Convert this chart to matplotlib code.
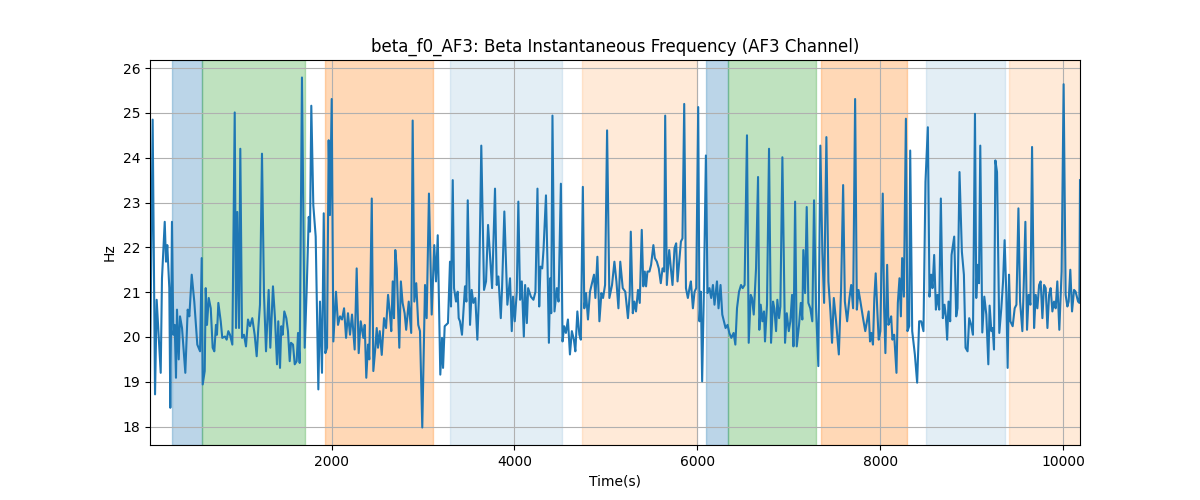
import matplotlib
matplotlib.use('Agg')
import matplotlib.pyplot as plt

# time (s) and beta instantaneous frequency (Hz)
time = [16, 45, 71, 89, 133, 147, 177, 191, 205, 227, 238, 256, 271, 286, 300, 311, 330, 344, 366, 402,
        428, 446, 472, 500, 533, 563, 581, 592, 614, 625, 639, 658, 680, 701, 719, 737, 748, 763, 789, 806,
        836, 854, 872, 890, 916, 942, 956, 970, 989, 1003, 1022, 1043, 1065, 1087, 1109, 1134, 1160, 1182, 1200, 1218,
        1240, 1262, 1284, 1313, 1331, 1360, 1382, 1404, 1418, 1437, 1451, 1466, 1484, 1506, 1524, 1543, 1557, 1579, 1598, 1619,
        1634, 1652, 1677, 1707, 1729, 1751, 1765, 1779, 1801, 1827, 1856, 1874, 1896, 1915, 1932, 1951, 1969, 1983, 2002, 2020,
        2049, 2071, 2093, 2115, 2137, 2159, 2180, 2202, 2224, 2253, 2275, 2297, 2319, 2348, 2363, 2380, 2399, 2413, 2440, 2457,
        2479, 2494, 2508, 2527, 2549, 2574, 2596, 2618, 2639, 2653, 2669, 2683, 2697, 2713, 2741, 2758, 2777, 2799, 2816, 2844,
        2871, 2887, 2905, 2926, 2948, 2967, 2992, 3022, 3040, 3065, 3095, 3123, 3142, 3161, 3189, 3208, 3219, 3237, 3273, 3295,
        3306, 3325, 3339, 3361, 3379, 3390, 3404, 3426, 3459, 3474, 3489, 3514, 3532, 3550, 3572, 3594, 3612, 3637, 3667, 3689,
        3711, 3755, 3787, 3806, 3824, 3850, 3864, 3889, 3922, 3951, 3970, 3984, 4003, 4025, 4042, 4061, 4080, 4102, 4116, 4135,
        4149, 4179, 4207, 4229, 4251, 4270, 4284, 4303, 4317, 4344, 4361, 4376, 4390, 4401, 4415, 4437, 4463, 4481, 4507, 4525,
        4543, 4562, 4584, 4606, 4627, 4649, 4665, 4687, 4709, 4725, 4747, 4763, 4782, 4803, 4825, 4847, 4869, 4884, 4906, 4928,
        4950, 4968, 4990, 5012, 5037, 5066, 5092, 5114, 5136, 5156, 5183, 5211, 5240, 5259, 5271, 5293, 5310, 5328, 5350, 5369,
        5391, 5408, 5424, 5438, 5453, 5475, 5493, 5518, 5534, 5556, 5577, 5599, 5618, 5636, 5647, 5665, 5691, 5709, 5727, 5749,
        5767, 5782, 5803, 5819, 5836, 5855, 5874, 5895, 5913, 5928, 5950, 5968, 5986, 6008, 6022, 6037, 6051, 6070, 6092, 6110,
        6131, 6150, 6169, 6186, 6213, 6230, 6252, 6271, 6289, 6307, 6329, 6348, 6370, 6395, 6414, 6432, 6454, 6476, 6494, 6515,
        6541, 6560, 6582, 6596, 6615, 6640, 6662, 6676, 6691, 6709, 6727, 6738, 6760, 6782, 6804, 6826, 6840, 6859, 6873, 6892,
        6906, 6928, 6957, 6976, 6998, 7015, 7034, 7049, 7067, 7085, 7110, 7129, 7146, 7157, 7176, 7194, 7212, 7233, 7255, 7274,
        7296, 7321, 7343, 7365, 7384, 7409, 7431, 7453, 7471, 7490, 7515, 7545, 7570, 7592, 7611, 7636, 7661, 7680, 7701, 7723,
        7742, 7760, 7781, 7812, 7834, 7852, 7871, 7886, 7900, 7918, 7933, 7948, 7966, 7981, 7999, 8025, 8040, 8054, 8073, 8087,
        8102, 8117, 8131, 8150, 8175, 8190, 8208, 8223, 8237, 8256, 8278, 8295, 8314, 8325, 8347, 8376, 8401, 8423, 8445, 8470,
        8492, 8518, 8536, 8554, 8569, 8587, 8606, 8623, 8642, 8660, 8682, 8700, 8715, 8729, 8744, 8762, 8777, 8806, 8828, 8842,
        8864, 8890, 8912, 8930, 8952, 8970, 8992, 9011, 9033, 9047, 9061, 9077, 9091, 9113, 9135, 9157, 9179, 9193, 9212, 9226,
        9241, 9256, 9274, 9299, 9321, 9340, 9357, 9376, 9390, 9405, 9420, 9445, 9467, 9486, 9508, 9526, 9551, 9566, 9584, 9602,
        9620, 9639, 9657, 9679, 9697, 9715, 9734, 9751, 9770, 9788, 9806, 9825, 9843, 9860, 9879, 9897, 9915, 9933, 9955, 9980,
        10002, 10024, 10043, 10057, 10075, 10094, 10116, 10133, 10160, 10174, 10181]

hz = [19.09, 24.85, 18.72, 20.83, 19.2, 21.31, 22.57, 21.68, 22.05, 21.09, 18.42, 22.57, 20.05, 20.27, 19.09, 20.61, 19.5, 20.46, 20.2, 19.2,
      20.61, 20.46, 21.39, 20.79, 19.83, 19.68, 21.76, 18.94, 19.24, 21.09, 20.27, 20.87, 20.64, 19.76, 19.68, 20.27, 20.05, 20.76, 20.35, 19.98,
      20.01, 19.94, 20.13, 20.05, 19.83, 25.01, 20.2, 22.79, 20.2, 24.2, 19.98, 20.05, 19.79, 20.39, 20.24, 20.42, 20.05, 19.57, 20.2, 20.72,
      24.09, 20.94, 19.68, 21.05, 19.76, 21.13, 20.42, 19.39, 20.35, 19.31, 20.24, 20.05, 20.57, 20.42, 20.13, 19.46, 19.87, 19.83, 19.39, 19.46,
      20.09, 19.42, 25.79, 19.76, 21.09, 22.68, 22.35, 25.16, 22.94, 22.24, 18.83, 20.79, 19.2, 22.76, 19.64, 19.76, 24.39, 22.72, 25.31, 19.9,
      21.01, 20.27, 20.46, 20.39, 20.64, 19.98, 20.53, 20.05, 20.5, 19.72, 21.53, 19.64, 20.35, 19.98, 20.27, 19.09, 19.83, 19.5, 23.09, 19.24,
      19.76, 20.2, 19.76, 20.13, 19.6, 20.42, 20.2, 20.94, 20.5, 20.13, 21.24, 20.42, 21.94, 21.53, 19.76, 21.24, 20.76, 20.53, 20.16, 20.79,
      20.09, 24.83, 20.79, 21.2, 20.27, 20.13, 17.98, 21.16, 20.42, 23.2, 20.5, 22.05, 21.24, 22.27, 19.16, 19.98, 19.31, 20.24, 20.31, 21.68,
      20.68, 23.5, 21.09, 20.79, 21.01, 20.42, 20.35, 20.05, 21.13, 20.79, 23.05, 20.27, 21.05, 20.76, 20.87, 19.94, 20.94, 24.27, 21.05, 21.24,
      22.5, 21.09, 23.31, 21.16, 21.35, 20.42, 21.09, 22.8, 20.72, 21.31, 20.13, 20.9, 20.35, 21.01, 23.02, 20.83, 21.24, 20.01, 21.16, 20.31,
      21.09, 20.9, 20.83, 21.01, 23.31, 20.68, 21.57, 21.53, 21.94, 23.16, 21.61, 19.87, 21.31, 20.53, 24.94, 20.57, 21.09, 20.79, 23.42, 19.9,
      20.24, 20.09, 20.39, 19.61, 20.13, 19.94, 19.68, 20.57, 20.05, 19.94, 23.35, 20.64, 20.98, 20.39, 21.01, 21.2, 21.39, 20.87, 21.79, 20.35,
      20.98, 20.87, 21.16, 24.61, 20.87, 21.16, 21.68, 21.24, 20.64, 21.68, 21.09, 21.01, 20.42, 20.94, 22.35, 20.53, 20.79, 20.57, 21.05, 20.76,
      22.39, 21.13, 21.46, 21.13, 21.46, 21.46, 21.61, 22.05, 21.76, 21.68, 21.53, 21.2, 21.53, 21.46, 24.94, 21.16, 21.94, 21.53, 21.16, 21.98,
      22.09, 21.24, 21.76, 22.13, 22.2, 25.2, 21.09, 20.87, 21.09, 21.24, 20.64, 21.01, 21.09, 25.13, 20.35, 21.01, 19.01, 21.01, 24.05, 20.98,
      21.09, 20.87, 21.16, 20.72, 21.24, 20.64, 21.16, 20.5, 20.35, 20.2, 20.27, 20.09, 19.98, 20.09, 19.83, 20.64, 21.01, 21.16, 21.09, 21.16,
      24.5, 19.87, 20.94, 20.87, 20.5, 21.53, 23.57, 20.16, 20.72, 20.35, 20.57, 19.9, 20.72, 24.2, 19.87, 20.79, 20.64, 20.13, 20.83, 20.42,
      20.68, 24.01, 19.87, 20.53, 20.13, 20.35, 20.94, 19.79, 23.02, 19.79, 20.27, 20.76, 20.39, 21.94, 20.98, 22.9, 20.76, 20.64, 20.35, 23.05,
      20.64, 19.35, 24.27, 21.9, 20.76, 24.46, 21.24, 20.57, 19.87, 20.87, 20.35, 19.61, 21.09, 23.39, 20.79, 20.35, 20.87, 21.16, 20.64, 25.31,
      20.61, 21.05, 20.79, 20.39, 20.13, 20.35, 20.57, 19.9, 20.09, 19.83, 20.87, 21.42, 20.57, 19.94, 20.13, 23.2, 20.64, 19.64, 21.61, 20.27,
      20.35, 20.46, 19.94, 20.05, 19.2, 20.76, 21.31, 20.46, 21.76, 20.9, 24.87, 20.13, 20.24, 24.16, 20.13, 19.61, 18.98, 20.35, 20.35, 20.13,
      23.46, 24.68, 20.9, 21.39, 21.09, 21.83, 20.61, 20.94, 20.61, 23.09, 20.42, 20.72, 20.46, 19.94, 20.79, 20.35, 21.83, 22.24, 20.46, 20.64,
      23.68, 21.9, 21.39, 19.76, 19.68, 20.42, 20.27, 20.05, 24.98, 20.87, 21.61, 21.2, 24.27, 20.1, 20.9, 20.5, 19.39, 20.7, 20.13, 20.2,
      19.72, 23.94, 23.68, 20.09, 20.64, 21.24, 22.16, 20.94, 19.31, 21.39, 20.35, 20.24, 20.64, 20.72, 22.87, 20.79, 20.13, 21.16, 22.57, 20.16,
      20.94, 20.72, 24.24, 20.2, 20.94, 20.64, 21.16, 21.24, 20.42, 21.16, 21.09, 20.2, 20.94, 21.09, 20.57, 20.79, 20.64, 21.24, 20.16, 21.46,
      25.64, 20.94, 20.68, 20.79, 21.5, 20.57, 21.05, 21.01, 20.79, 20.76, 23.5]

# shaded stimulus blocks: start, end, colour, alpha
span_start = [256, 584, 1929, 3295, 4738, 6093, 6337, 7350, 8498, 9405]
span_end = [584, 1705, 3104, 4514, 5990, 6337, 7294, 8285, 9359, 10250]
span_color = ['tab:blue', 'tab:green', 'tab:orange', 'tab:blue', 'tab:orange',
              'tab:blue', 'tab:green', 'tab:orange', 'tab:blue', 'tab:orange']
span_alpha = [0.3, 0.3, 0.3, 0.12, 0.16, 0.3, 0.3, 0.3, 0.12, 0.16]

fig, ax = plt.subplots(figsize=(12, 5))

for s, e, c, a in zip(span_start, span_end, span_color, span_alpha):
    ax.axvspan(s, e, color=c, alpha=a)

ax.plot(time, hz, color='tab:blue')
ax.set_xlim(time[0], time[-1])
ax.set_title('beta_f0_AF3: Beta Instantaneous Frequency (AF3 Channel)')
ax.set_xlabel('Time(s)')
ax.set_ylabel('Hz')
ax.grid(True)

plt.savefig('out.png', dpi=100)
